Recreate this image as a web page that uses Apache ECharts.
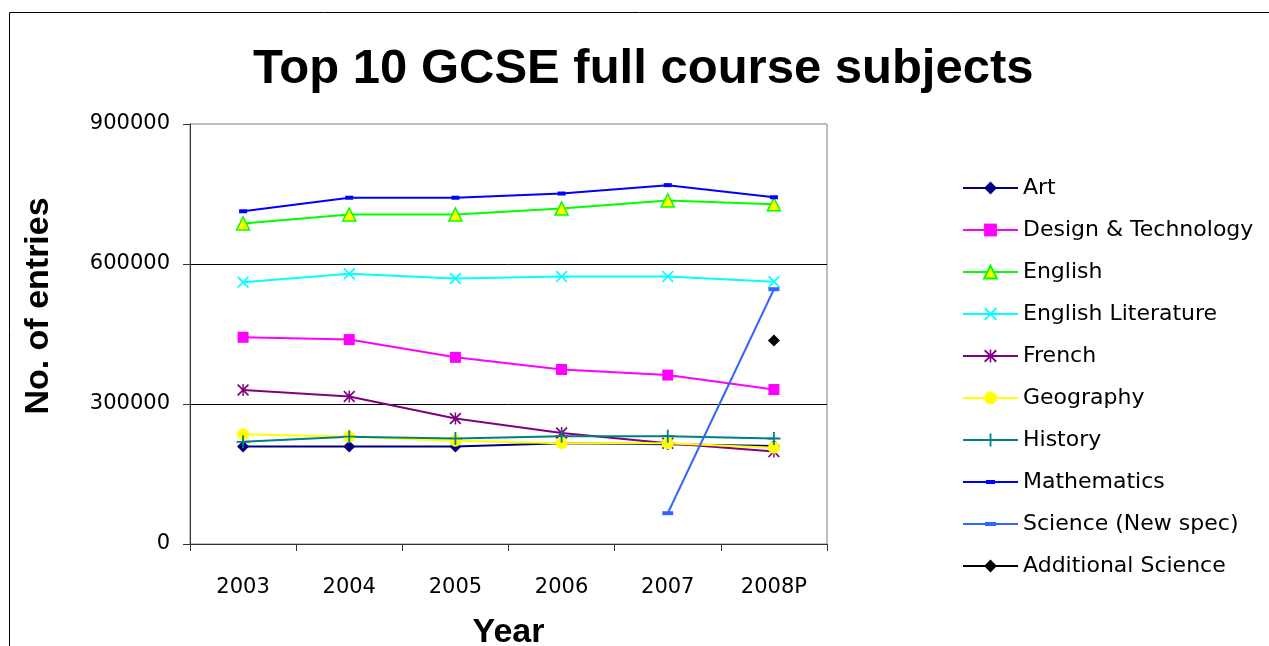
<!DOCTYPE html>
<html>
<head>
<meta charset="utf-8">
<title>Top 10 GCSE full course subjects</title>
<script src="https://cdn.jsdelivr.net/npm/echarts@6/dist/echarts.min.js"></script>
<style>
  html, body { margin: 0; padding: 0; background: #fff; }
  #chart { width: 1269px; height: 646px; }
</style>
</head>
<body>
<div id="chart"></div>
<script>
// data
const years = ['2003', '2004', '2005', '2006', '2007', '2008P']
const yTicks = [0, 300000, 600000, 900000]

const art = [209000, 209000, 209000, 216000, 214000, 210000]
const designTech = [443000, 438000, 400000, 374000, 362000, 331000]
const english = [687000, 706000, 706000, 719000, 736000, 728000]
const englishLit = [561000, 579000, 569000, 573000, 573000, 562000]
const french = [330000, 316000, 269000, 238000, 216000, 198000]
const geography = [235000, 230000, 221000, 216000, 216000, 206000]
const history = [219000, 230000, 226000, 231000, 231000, 226000]
const maths = [713000, 742000, 742000, 751000, 769000, 743000]
const scienceNew = [null, null, null, null, 66000, 546000]
const additionalScience = [null, null, null, null, null, 436000]

// marker shapes that echarts does not have
const crossPath = 'path://M0,1 L1,0 L5,4 L9,0 L10,1 L6,5 L10,9 L9,10 L5,6 L1,10 L0,9 L4,5 Z'
const starPath = crossPath + ' M4.4,0 L5.6,0 L5.6,10 L4.4,10 Z'
const plusPath = 'path://M4.3,0 L5.7,0 L5.7,4.3 L10,4.3 L10,5.7 L5.7,5.7 L5.7,10 L4.3,10 L4.3,5.7 L0,5.7 L0,4.3 L4.3,4.3 Z'
// legend icons for the dash-marked series: line + short dash
const dashIcon = 'path://M0,6 L55,6 L55,8 L0,8 Z M23,5 L32,5 L32,9 L23,9 Z'
const wideDashIcon = 'path://M0,6 L55,6 L55,8 L0,8 Z M22,5 L33,5 L33,9 L22,9 Z'

function lineSeries (name, data, color, symbol, size, extra) {
  const s = {
    name: name,
    type: 'line',
    data: data,
    symbol: symbol,
    symbolSize: size,
    showAllSymbol: true,
    lineStyle: { color: color, width: 2 },
    itemStyle: { color: color },
    emphasis: { disabled: true }
  }
  return Object.assign(s, extra || {})
}

const chart = echarts.init(document.getElementById('chart'))

const option = {
  backgroundColor: '#fff',
  animation: false,
  title: {
    text: 'Top 10 GCSE full course subjects',
    left: 248,
    top: 40,
    textStyle: {
      fontFamily: 'Liberation Sans',
      fontWeight: 'bold',
      fontSize: 49,
      color: '#000'
    }
  },
  legend: {
    orient: 'vertical',
    left: 957,
    top: 172,
    itemWidth: 55,
    itemHeight: 16,
    itemGap: 20,
    symbolKeepAspect: true,
    textStyle: {
      fontFamily: 'DejaVu Sans',
      fontSize: 22,
      lineHeight: 22,
      color: '#000'
    },
    data: ['Art', 'Design & Technology', 'English', 'English Literature', 'French',
      'Geography', 'History',
      { name: 'Mathematics', icon: dashIcon },
      { name: 'Science (New spec)', icon: wideDashIcon },
      'Additional Science']
  },
  grid: {
    left: 190,
    top: 124,
    right: 442,
    bottom: 102,
    containLabel: false,
    outerBoundsMode: 'none',
    show: true,
    borderColor: '#808080',
    borderWidth: 1
  },
  xAxis: {
    type: 'category',
    data: years,
    boundaryGap: true,
    name: 'Year',
    nameLocation: 'middle',
    nameGap: 72,
    nameTextStyle: {
      fontFamily: 'Liberation Sans',
      fontWeight: 'bold',
      fontSize: 34,
      color: '#000'
    },
    axisLine: { lineStyle: { color: '#333', width: 1 } },
    axisTick: { show: true, interval: 0, length: 7, lineStyle: { color: '#333' } },
    axisLabel: {
      margin: 33,
      fontFamily: 'DejaVu Sans',
      fontSize: 21,
      color: '#000'
    },
    splitLine: { show: false }
  },
  yAxis: {
    type: 'value',
    min: yTicks[0],
    max: yTicks[yTicks.length - 1],
    interval: yTicks[1] - yTicks[0],
    axisLine: { show: true, lineStyle: { color: '#333', width: 1 } },
    axisTick: { show: true, length: 7, lineStyle: { color: '#333' } },
    axisLabel: {
      margin: 20,
      padding: [6, 0, 0, 0],
      fontFamily: 'DejaVu Sans',
      fontSize: 21,
      color: '#000',
      formatter: function (v) { return String(v) }
    },
    splitLine: {
      show: true,
      showMaxLine: false,
      lineStyle: { color: '#000', width: 1 }
    }
  },
  graphic: [
    {
      // outer chart frame, runs past the right and bottom edges
      type: 'rect',
      shape: { x: 9.5, y: 12.5, width: 1400, height: 800 },
      style: { fill: 'none', stroke: '#000', lineWidth: 1 },
      silent: true,
      z: 100
    },
    {
      // y axis title sits above the plot's middle in the original
      type: 'text',
      x: 39,
      y: 306,
      rotation: Math.PI / 2,
      style: {
        text: 'No. of entries',
        fontFamily: 'Liberation Sans',
        fontWeight: 'bold',
        fontSize: 34,
        fill: '#000',
        align: 'center',
        verticalAlign: 'middle'
      }
    }
  ],
  series: [
    lineSeries('Art', art, '#000080', 'diamond', 12),
    lineSeries('Design & Technology', designTech, '#FF00FF', 'rect', 11),
    lineSeries('English', english, '#00FF00', 'triangle', 13, {
      itemStyle: { color: '#FFFF00', borderColor: '#00FF00', borderWidth: 1.5 }
    }),
    lineSeries('English Literature', englishLit, '#00FFFF', crossPath, 12),
    lineSeries('French', french, '#800080', starPath, 12),
    lineSeries('Geography', geography, '#FFFF00', 'circle', 12),
    lineSeries('History', history, '#008080', plusPath, 13),
    lineSeries('Mathematics', maths, '#0000FF', 'rect', [8, 4]),
    lineSeries('Science (New spec)', scienceNew, '#3366FF', 'rect', [11, 4]),
    lineSeries('Additional Science', additionalScience, '#000000', 'diamond', 12)
  ]
}

chart.setOption(option)
</script>
</body>
</html>
